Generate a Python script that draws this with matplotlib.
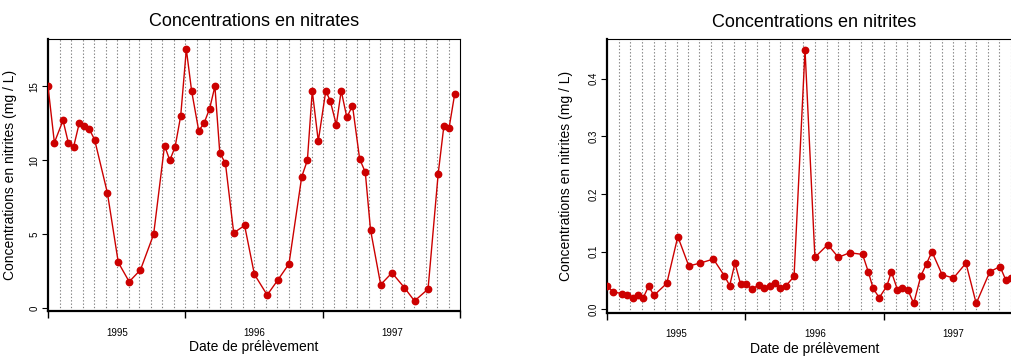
import matplotlib
matplotlib.use('Agg')
import matplotlib.pyplot as plt
import matplotlib.dates as mdates
from matplotlib.ticker import FixedLocator, FormatStrFormatter, NullFormatter
import pandas as pd

plt.rcParams['font.family'] = ['Liberation Sans', 'DejaVu Sans']

# dates de prelevement (juillet 1994 -> juin 1997)
dates = pd.to_datetime([
    '1994-07-01', '1994-07-18', '1994-08-10', '1994-08-24', '1994-09-07',
    '1994-09-22', '1994-10-04', '1994-10-19', '1994-11-02', '1994-12-06',
    '1995-01-04', '1995-02-02', '1995-03-04', '1995-04-08', '1995-05-07',
    '1995-05-21', '1995-06-04', '1995-06-19', '1995-07-04', '1995-07-18',
    '1995-08-06', '1995-08-20', '1995-09-04', '1995-09-18', '1995-10-01',
    '1995-10-16', '1995-11-07', '1995-12-06', '1996-01-01', '1996-02-04',
    '1996-03-03', '1996-04-02', '1996-05-06', '1996-05-21', '1996-06-03',
    '1996-06-19', '1996-07-09', '1996-07-21', '1996-08-06', '1996-08-19',
    '1996-09-03', '1996-09-18', '1996-10-07', '1996-10-22', '1996-11-05',
    '1996-12-02', '1997-01-01', '1997-02-03', '1997-03-02', '1997-04-07',
    '1997-05-04', '1997-05-19', '1997-06-02', '1997-06-17',
])

nitrates = [
    15.0, 11.2, 12.7, 11.2, 10.9, 12.5, 12.3, 12.1, 11.4, 7.8,
    3.1, 1.8, 2.6, 5.0, 11.0, 10.0, 10.9, 13.0, 17.5, 14.7,
    12.0, 12.5, 13.5, 15.0, 10.5, 9.8, 5.1, 5.6, 2.3, 0.9,
    1.9, 3.0, 8.9, 10.0, 14.7, 11.3, 14.7, 14.0, 12.4, 14.7,
    12.9, 13.7, 10.1, 9.2, 5.3, 1.6, 2.4, 1.4, 0.5, 1.3,
    9.1, 12.3, 12.2, 14.5,
]

nitrites = [
    0.040, 0.030, 0.027, 0.024, 0.019, 0.024, 0.019, 0.040, 0.024, 0.045,
    0.126, 0.075, 0.080, 0.087, 0.058, 0.041, 0.080, 0.043, 0.043, 0.035,
    0.042, 0.037, 0.040, 0.046, 0.036, 0.040, 0.057, 0.450, 0.090, 0.112,
    0.090, 0.098, 0.095, 0.065, 0.036, 0.020, 0.040, 0.065, 0.034, 0.037,
    0.033, 0.010, 0.058, 0.079, 0.100, 0.060, 0.054, 0.080, 0.010, 0.065,
    0.074, 0.051, 0.055, 0.060,
]

year_labels = ['1995', '1996', '1997']
year_pos = pd.to_datetime(['1995-01-01', '1996-01-01', '1997-01-01'])
year_ticks = pd.to_datetime(['1994-07-01', '1995-07-01', '1996-07-01', '1997-07-01'])
months = pd.date_range('1994-08-01', '1997-06-01', freq='MS')

red = '#CC0000'


def draw_panel(ax, values, title, yticks, ylim, fmt):
    for m in months:
        ax.axvline(m, color='#808080', lw=0.8, ls=(0, (1.2, 1.8)), zorder=0)
    ax.plot(dates, values, color=red, lw=1.0, marker='o', ms=4.6,
            markeredgecolor=red, zorder=3)
    ax.set_xlim(year_ticks[0], year_ticks[-1])
    ax.set_ylim(*ylim)

    # ticks on juillet, year names on janvier
    ax.xaxis.set_major_locator(FixedLocator(mdates.date2num(year_ticks)))
    ax.xaxis.set_major_formatter(NullFormatter())
    ax.xaxis.set_minor_locator(FixedLocator(mdates.date2num(year_pos)))
    ax.xaxis.set_minor_formatter(plt.FixedFormatter(year_labels))
    ax.tick_params(axis='x', which='major', length=5, width=1.0, direction='out')
    ax.tick_params(axis='x', which='minor', length=0, pad=12, labelsize=7)

    ax.set_yticks(yticks)
    ax.yaxis.set_major_formatter(FormatStrFormatter(fmt))
    ax.tick_params(axis='y', length=4, width=0.8, pad=2, labelsize=7)
    for lab in ax.get_yticklabels():
        lab.set_rotation(90)
        lab.set_va('center')

    for side in ['left', 'bottom']:
        ax.spines[side].set_linewidth(1.6)
    for side in ['top', 'right']:
        ax.spines[side].set_linewidth(0.8)

    ax.set_title(title, fontsize=13, pad=9)
    ax.set_ylabel('Concentrations en nitrites (mg / L)', fontsize=10)
    ax.set_xlabel('Date de prélèvement', fontsize=10)


fig = plt.figure(figsize=(10.11, 3.56), dpi=100)
ax1 = fig.add_axes([48 / 1011, 1 - 311 / 356, 412 / 1011, 272 / 356])
ax2 = fig.add_axes([607 / 1011, 1 - 312.7 / 356, 415 / 1011, 273.4 / 356])

draw_panel(ax1, nitrates, 'Concentrations en nitrates', [0, 5, 10, 15], (-0.18, 18.2), '%d')
draw_panel(ax2, nitrites, 'Concentrations en nitrites', [0.0, 0.1, 0.2, 0.3, 0.4], (-0.006, 0.468), '%.1f')

ax1.yaxis.set_label_coords(-0.075, 0.5)
ax2.yaxis.set_label_coords(-0.083, 0.5)
ax1.xaxis.set_label_coords(0.5, -0.108)
ax2.xaxis.set_label_coords(0.5, -0.108)

fig.savefig('out.png', dpi=100)
